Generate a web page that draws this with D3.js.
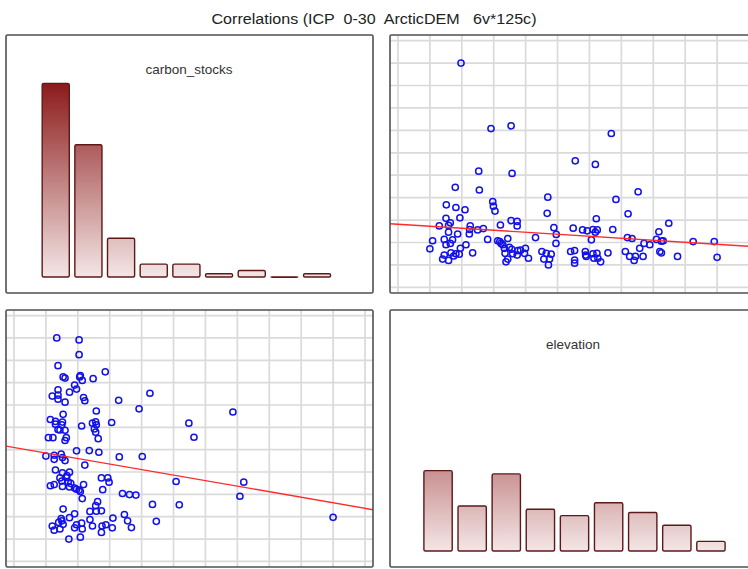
<!DOCTYPE html>
<html>
<head>
<meta charset="utf-8">
<script src="https://cdn.jsdelivr.net/npm/d3@7"></script>
<style>
  body { margin: 0; background: #fff; }
  svg { display: block; }
  text { font-family: "Liberation Sans", Arial, sans-serif; }
</style>
</head>
<body>
<svg id="chart" width="748" height="569"></svg>
<script>
// Scatter-matrix of two variables: histograms on the diagonal,
// scatter plots with least-squares lines off the diagonal.
const title = "Correlations (ICP  0-30  ArcticDEM   6v*125c)";
const variables = ["carbon_stocks", "elevation"];

// One entry per sample (125 cases), same order in both arrays.
const carbon_stocks = [
  47.0, 32.4, 33.0, 31.3, 25.2, 24.4, 22.9, 22.4, 19.3, 18.7,
  17.1, 18.3, 16.6, 16.1, 15.1, 14.0, 15.4, 14.8, 14.3, 12.5,
  12.4, 13.5, 13.4, 12.3, 11.3, 11.9, 11.7, 10.7, 10.9, 10.7,
  11.4, 10.8, 10.7, 9.9, 9.8, 10.1, 10.3, 8.8, 8.1, 10.2,
  9.8, 9.6, 9.9, 9.8, 9.3, 7.6, 9.9, 8.1, 7.9, 9.4,
  7.7, 7.4, 7.3, 7.2, 7.2, 7.4, 7.7, 7.6, 9.3, 8.9,
  7.7, 7.9, 8.9, 7.4, 7.2, 6.8, 6.5, 5.6, 6.5, 6.8,
  6.5, 5.7, 6.8, 5.7, 5.9, 5.5, 5.3, 5.7, 4.6, 4.5,
  4.2, 4.6, 3.5, 4.7, 4.5, 4.0, 4.4, 4.2, 3.3, 3.0,
  3.3, 2.7, 5.0, 4.6, 4.4, 3.3, 3.3, 2.0, 5.0, 5.2,
  3.1, 2.4, 5.0, 4.2, 3.9, 4.6, 3.5, 3.5, 2.7, 4.7,
  5.0, 3.9, 3.9, 3.9, 3.0, 5.7, 5.0, 4.7, 3.9, 3.7,
  4.5, 6.8, 6.5, 5.2, 4.7
];
const elevation = [
  24.5, 43.3, 55.9, 118.7, 96.1, 108.7, 35.6, 56.5, 20.9, 36.0,
  78.9, 135.5, 121.6, 44.4, 44.8, 45.8, 15.3, 21.3, 27.0, 23.8,
  15.1, 78.5, 129.2, 109.3, 154.7, 55.9, 59.7, 59.7, 49.2, 10.9,
  17.8, 16.7, 30.3, 29.9, 34.9, 38.5, 82.7, 84.2, 71.2, 94.8,
  100.7, 103.6, 107.2, 109.9, 108.7, 106.2, 119.6, 128.8, 131.7, 148.5,
  147.0, 151.2, 150.1, 170.0, 183.2, 6.7, 14.0, 19.2, 16.7, 22.4,
  41.2, 53.8, 29.7, 47.5, 48.8, 139.2, 142.8, 5.0, 15.1, 17.8,
  27.6, 24.1, 84.0, 51.7, 54.8, 56.3, 61.8, 64.9, 52.1, 56.9,
  59.7, 64.3, 66.8, 31.8, 21.3, 19.9, 23.4, 14.0, 13.0, 16.7,
  53.8, 52.7, 75.2, 77.9, 81.0, 76.4, 80.0, 79.3, 93.2, 95.7,
  95.7, 95.7, 102.4, 102.6, 103.0, 109.7, 107.8, 110.3, 112.0, 116.6,
  127.5, 130.2, 133.8, 138.6, 133.0, 136.5, 149.1, 150.1, 160.2, 185.0,
  107.2, 49.6, 50.7, 60.1, 18.2
];
const values = { carbon_stocks, elevation };
const binCount = 9;

// Layout of the 2 x 2 grid of framed panels.
const colX = [6, 390];
const rowY = [35, 310];
const panelW = 367;
const panelH = [258, 257];
// Horizontal extent of the histogram bars inside each diagonal panel.
const histSpan = { carbon_stocks: [33.4, 327.4], elevation: [31, 338] };

const svg = d3.select("#chart");
const defs = svg.append("defs");

svg.append("text")
  .attr("x", 374).attr("y", 24)
  .attr("text-anchor", "middle")
  .attr("font-size", 15.5)
  .attr("textLength", 325)
  .attr("lengthAdjust", "spacingAndGlyphs")
  .attr("fill", "#222")
  .style("white-space", "pre")
  .text(title);

// Each variable: range split in 9 equal steps, padded by 1.25 steps.
const info = {};
variables.forEach(v => {
  const [lo, hi] = d3.extent(values[v]);
  const step = (hi - lo) / binCount;
  info[v] = {
    lo, hi, step,
    domain: [lo - 1.25 * step, hi + 1.25 * step],
    grid: d3.range(-1, binCount + 2).map(k => lo + k * step)
  };
});

variables.forEach((rowVar, r) => {
  variables.forEach((colVar, c) => {
    const x0 = colX[c], y0 = rowY[r], w = panelW, h = panelH[r];
    const id = `clip-${r}-${c}`;
    defs.append("clipPath").attr("id", id)
      .append("rect").attr("x", x0).attr("y", y0).attr("width", w).attr("height", h);

    const g = svg.append("g");
    g.append("rect")
      .attr("x", x0).attr("y", y0).attr("width", w).attr("height", h)
      .attr("fill", "#fff");
    const inner = g.append("g").attr("clip-path", `url(#${id})`);

    if (r === c) {
      // Histogram of the variable
      const v = rowVar, I = info[v];
      const thresholds = d3.range(1, binCount).map(k => I.lo + k * I.step);
      const bins = d3.bin().domain([I.lo, I.hi]).thresholds(thresholds)(values[v]);
      const base = y0 + h - 16;
      const x = d3.scaleBand()
        .domain(d3.range(bins.length))
        .range([x0 + histSpan[v][0], x0 + histSpan[v][1]])
        .paddingInner(0.17).paddingOuter(0.085);
      const y = d3.scaleLinear().domain([0, 75]).range([base, y0]);

      const gid = `grad-${r}`;
      const grad = defs.append("linearGradient").attr("id", gid)
        .attr("gradientUnits", "userSpaceOnUse")
        .attr("x1", 0).attr("x2", 0)
        .attr("y1", y(0)).attr("y2", y(60));
      grad.append("stop").attr("offset", 0).attr("stop-color", "#f4e6e6");
      grad.append("stop").attr("offset", 1).attr("stop-color", "#8c1a1a");

      inner.selectAll("rect.bar").data(bins).join("rect")
        .attr("class", "bar")
        .attr("x", (d, i) => x(i))
        .attr("width", x.bandwidth())
        .attr("y", d => y(d.length))
        .attr("height", d => Math.max(0.2, y(0) - y(d.length)))
        .attr("rx", 1.5)
        .attr("fill", `url(#${gid})`)
        .attr("stroke", "#5e1818")
        .attr("stroke-width", 1.4);

      inner.append("text")
        .attr("x", x0 + w / 2 - 0.5).attr("y", y0 + 39)
        .attr("text-anchor", "middle")
        .attr("font-size", 13.5)
        .attr("fill", "#333")
        .text(v);
    } else {
      // Scatter plot: column variable across, row variable up
      const X = info[colVar], Y = info[rowVar];
      const x = d3.scaleLinear().domain(X.domain).range([x0, x0 + w]);
      const y = d3.scaleLinear().domain(Y.domain).range([y0 + h, y0]);

      inner.append("g").selectAll("line").data(X.grid).join("line")
        .attr("x1", d => x(d)).attr("x2", d => x(d))
        .attr("y1", y0).attr("y2", y0 + h)
        .attr("stroke", "#dadada").attr("stroke-width", 1.7);
      inner.append("g").selectAll("line").data(Y.grid).join("line")
        .attr("y1", d => y(d)).attr("y2", d => y(d))
        .attr("x1", x0).attr("x2", x0 + w)
        .attr("stroke", "#dadada").attr("stroke-width", 1.7);

      const xs = values[colVar], ys = values[rowVar];
      const pts = xs.map((d, i) => [d, ys[i]]);

      inner.append("g").selectAll("circle").data(pts).join("circle")
        .attr("cx", d => x(d[0]))
        .attr("cy", d => y(d[1]))
        .attr("r", 3.1)
        .attr("fill", "none")
        .attr("stroke", "#1212e8")
        .attr("stroke-width", 1.5);

      // Least-squares line of the row variable on the column variable
      const mx = d3.mean(xs), my = d3.mean(ys);
      const sxy = d3.sum(pts, d => (d[0] - mx) * (d[1] - my));
      const sxx = d3.sum(xs, d => (d - mx) ** 2);
      const slope = sxy / sxx, icpt = my - slope * mx;
      const ends = X.domain.map(d => [d, icpt + slope * d]);
      inner.append("path")
        .attr("d", d3.line().x(d => x(d[0])).y(d => y(d[1]))(ends))
        .attr("fill", "none")
        .attr("stroke", "#ff2a2a")
        .attr("stroke-width", 1.4);
    }

    g.append("rect")
      .attr("x", x0).attr("y", y0).attr("width", w).attr("height", h)
      .attr("rx", 1.5)
      .attr("fill", "none")
      .attr("stroke", "#505050")
      .attr("stroke-width", 1.6);
  });
});
</script>
</body>
</html>
